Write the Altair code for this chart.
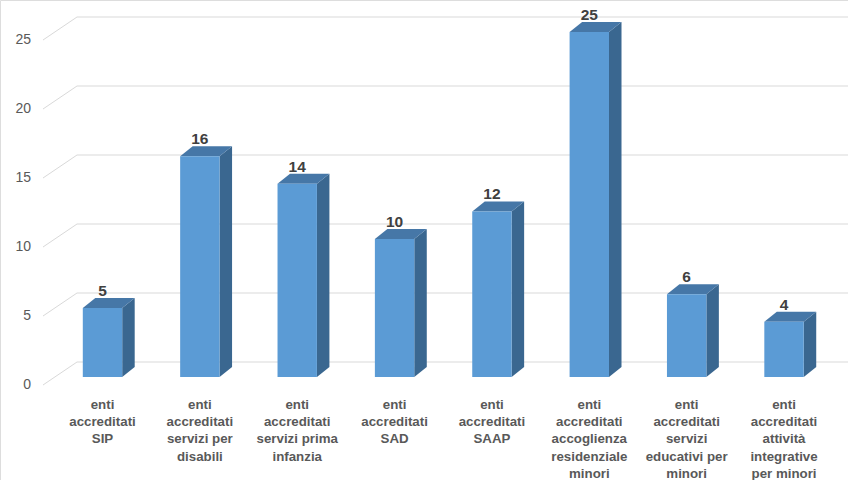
import altair as alt
import pandas as pd

categories = [
    "enti\naccreditati\nSIP",
    "enti\naccreditati\nservizi per\ndisabili",
    "enti\naccreditati\nservizi prima\ninfanzia",
    "enti\naccreditati\nSAD",
    "enti\naccreditati\nSAAP",
    "enti\naccreditati\naccoglienza\nresidenziale\nminori",
    "enti\naccreditati\nservizi\neducativi per\nminori",
    "enti\naccreditati\nattività\nintegrative\nper minori",
]
values = [5, 16, 14, 10, 12, 25, 6, 4]
y_ticks = [0, 5, 10, 15, 20, 25]

# geometry (pixel based, converted to data units)
PX_X = 97.36   # px per category step
PX_Y = 13.8    # px per unit
def ix(px):
    return px / PX_X
def uy(px):
    return px / PX_Y

HALF_W = ix(19.7)      # half width of bar front
BAR_DZ_Y = uy(8)       # bar front above floor front
SIDE_DX = ix(12.5)
SIDE_DY = uy(10)
WALL_DX = ix(34)
WALL_DY = uy(23)
FLOOR_LEFT = ix(43 - 102.5)
WALL_LEFT = ix(77 - 102.5)
WALL_RIGHT = ix(848 - 102.5)
YLAB_X = ix(31 - 102.5)

FRONT = "#5B9BD5"
SIDE = "#3A6790"
TOP = "#4677A7"
GRID = "#D9D9D9"

n = len(values)
bars = pd.DataFrame({
    "i": list(range(n)),
    "v": values,
    "label": [str(v) for v in values],
    "cat": categories,
})
bars["x0"] = bars["i"] - HALF_W
bars["x1"] = bars["i"] + HALF_W
bars["y0"] = BAR_DZ_Y
bars["y1"] = bars["v"] + BAR_DZ_Y
bars["ytop"] = bars["v"] + BAR_DZ_Y + SIDE_DY

side_rows = []
top_rows = []
for i, v in zip(range(n), values):
    xr = i + HALF_W
    side_rows.append({"bar": i, "x": xr, "ya": BAR_DZ_Y, "yb": v + BAR_DZ_Y})
    side_rows.append({"bar": i, "x": xr + SIDE_DX, "ya": BAR_DZ_Y + SIDE_DY, "yb": v + BAR_DZ_Y + SIDE_DY})
    top_rows.append({"bar": i, "y": v + BAR_DZ_Y, "xa": i - HALF_W, "xb": i + HALF_W})
    top_rows.append({"bar": i, "y": v + BAR_DZ_Y + SIDE_DY, "xa": i - HALF_W + SIDE_DX, "xb": i + HALF_W + SIDE_DX})
side = pd.DataFrame(side_rows)
top = pd.DataFrame(top_rows)

grid = pd.DataFrame({"t": y_ticks, "lab": [str(t) for t in y_ticks]})
grid["xf"] = FLOOR_LEFT
grid["xw"] = WALL_LEFT
grid["xe"] = WALL_RIGHT
grid["yw"] = grid["t"] + WALL_DY

xs = alt.Scale(domain=[0, 7], range=[102.5, 102.5 + 7 * PX_X], nice=False, zero=False)
ys = alt.Scale(domain=[0, 25], range=[385, 385 - 25 * PX_Y], nice=False, zero=False)

X = lambda f: alt.X(f, type="quantitative", scale=xs, axis=None)
Y = lambda f: alt.Y(f, type="quantitative", scale=ys, axis=None)

back_grid = alt.Chart(grid).mark_rule(color=GRID, strokeWidth=1).encode(
    x=X("xw"), x2="xe", y=Y("yw"), y2="yw")
diag = alt.Chart(grid).mark_rule(color=GRID, strokeWidth=1).encode(
    x=X("xf"), x2="xw", y=Y("t"), y2="yw")
ylabels = alt.Chart(grid).mark_text(
    align="right", baseline="middle", font="Liberation Sans", fontSize=14, color="#595959"
).encode(x=X("xf"), y=Y("t"), text="lab:N").transform_calculate(xf=str(YLAB_X))

side_l = alt.Chart(side).mark_area(color=SIDE, orient="vertical").encode(
    x=X("x"), y=Y("ya"), y2="yb", detail="bar:N")
top_l = alt.Chart(top).mark_area(color=TOP, orient="horizontal").encode(
    y=Y("y"), x=X("xa"), x2="xb", detail="bar:N")
front_l = alt.Chart(bars).mark_rect(color=FRONT).encode(
    x=X("x0"), x2="x1", y=Y("y0"), y2="y1")
vals = alt.Chart(bars).mark_text(
    baseline="alphabetic", dy=-2, font="Liberation Sans", fontSize=15.5, fontWeight="bold", color="#404040"
).encode(x=X("i"), y=Y("ytop"), text="label:N")
cats = alt.Chart(bars).mark_text(
    baseline="top", dy=13, align="center", lineBreak="\n", lineHeight=17.2,
    font="Liberation Sans", fontSize=13.3, fontWeight="bold", color="#595959"
).encode(x=X("i"), y=alt.Y("y0z:Q", scale=ys, axis=None), text="cat:N").transform_calculate(y0z="0")

chart = alt.layer(back_grid, diag, ylabels, side_l, top_l, front_l, vals, cats).properties(
    width=848, height=480, autosize=alt.AutoSizeParams(type="none"), padding=0
).configure_view(stroke=None).configure(background="white")

chart.save("out.html", embed_options={"renderer": "svg", "actions": False})
